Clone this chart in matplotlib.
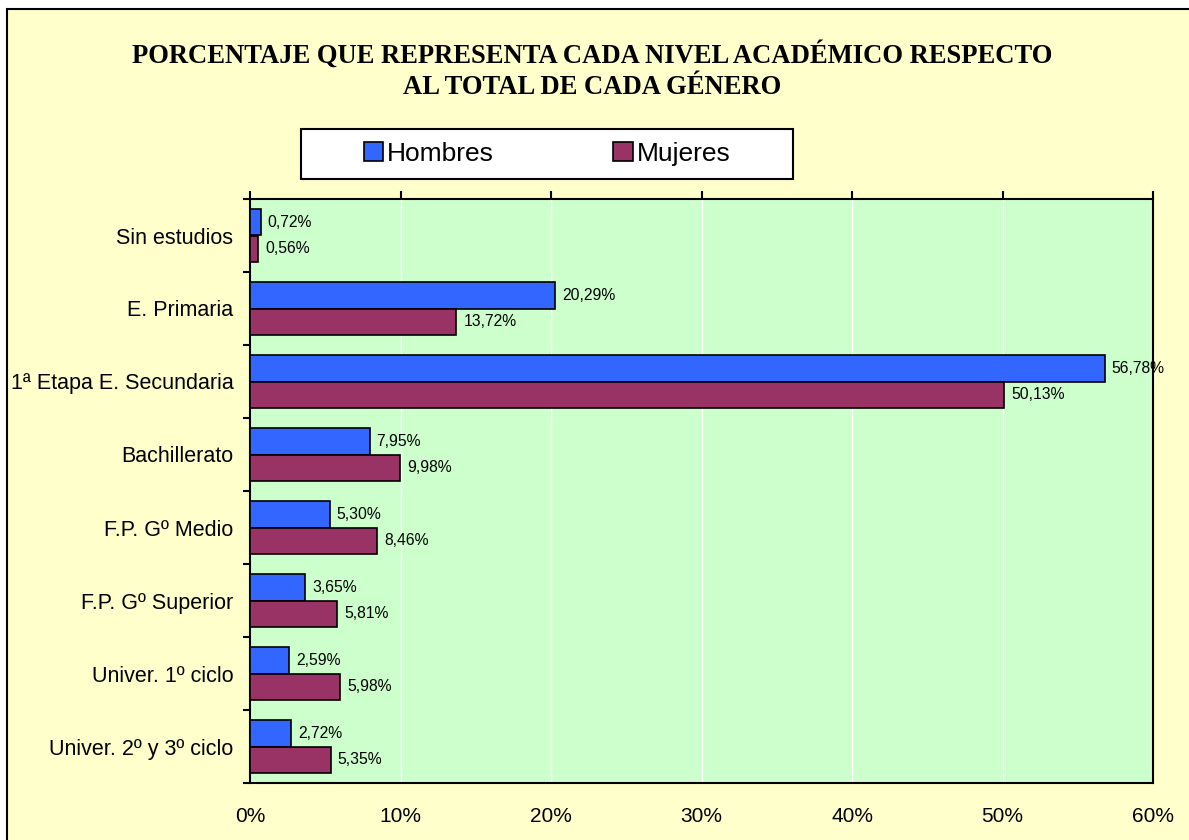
import numpy as np
import matplotlib
matplotlib.use('Agg')
import matplotlib.pyplot as plt
from matplotlib.patches import Rectangle, Patch

plt.rcParams['font.family'] = ['Liberation Sans', 'DejaVu Sans']

# ------------------------------------------------------------
# datos
# ------------------------------------------------------------
niveles = ['Sin estudios', 'E. Primaria', '1ª Etapa E. Secundaria', 'Bachillerato',
           'F.P. Gº Medio', 'F.P. Gº Superior', 'Univer. 1º ciclo', 'Univer. 2º y 3º ciclo']
hombres = [0.72, 20.29, 56.78, 7.95, 5.30, 3.65, 2.59, 2.72]
mujeres = [0.56, 13.72, 50.13, 9.98, 8.46, 5.81, 5.98, 5.35]
xticks = [0, 10, 20, 30, 40, 50, 60]

C_HOM = '#3366FF'
C_MUJ = '#993366'
C_FONDO = '#FFFFCC'
C_PLOT = '#CCFFCC'

W, H = 1189, 840
fig = plt.figure(figsize=(W / 100, H / 100), dpi=100)
fig.patch.set_facecolor('white')

# marco del grafico (amarillo, borde negro arriba/izquierda)
fig.patches.append(Rectangle((7 / W, -0.1), 1.2, 1 - 9 / H + 0.1,
                             transform=fig.transFigure, facecolor=C_FONDO,
                             edgecolor='black', linewidth=1.5, zorder=-5))
# caja de la leyenda
fig.patches.append(Rectangle((301 / W, 1 - 179 / H), 492 / W, 50 / H,
                             transform=fig.transFigure, facecolor='white',
                             edgecolor='black', linewidth=1.5, zorder=-4))

ax = fig.add_axes([250 / W, 1 - 783 / H, (1153 - 250) / W, (783 - 199) / H])
ax.set_facecolor(C_PLOT)

y = np.arange(len(niveles))
h = 0.363
ax.barh(y - h / 2, hombres, height=h, color=C_HOM, edgecolor='black', linewidth=1.2,
        label='Hombres', zorder=3)
ax.barh(y + h / 2, mujeres, height=h, color=C_MUJ, edgecolor='black', linewidth=1.2,
        label='Mujeres', zorder=3)

# etiquetas de valor
for yi, v in zip(y, hombres):
    ax.annotate(f'{v:.2f}%'.replace('.', ','), (v, yi - h / 2), xytext=(5, 0),
                textcoords='offset points', va='center', ha='left', fontsize=11.3, zorder=4,
                annotation_clip=False)
for yi, v in zip(y, mujeres):
    ax.annotate(f'{v:.2f}%'.replace('.', ','), (v, yi + h / 2), xytext=(5, 0),
                textcoords='offset points', va='center', ha='left', fontsize=11.3, zorder=4,
                annotation_clip=False)

ax.set_xlim(0, 60)
ax.set_ylim(len(niveles) - 0.5, -0.5)
ax.set_xticks(xticks)
ax.set_xticklabels([f'{t}%' for t in xticks], fontsize=15)
ax.xaxis.grid(True, color='white', linewidth=1, zorder=1)
ax.set_axisbelow(True)
ax.tick_params(axis='x', top=True, bottom=False, labeltop=False, labelbottom=True,
               direction='out', length=6, width=1.5, pad=11)

ax.set_yticks(y)
ax.set_yticklabels(niveles, fontsize=15.5)
ax.set_yticks(np.arange(-0.5, len(niveles), 1), minor=True)
ax.tick_params(axis='y', which='major', length=0, pad=12)
ax.tick_params(axis='y', which='minor', length=5, width=1.5, direction='out')

for s in ax.spines.values():
    s.set_color('black')
    s.set_linewidth(1.5)

# titulo
fig.text(592 / W, 1 - 55 / H, 'PORCENTAJE QUE REPRESENTA CADA NIVEL ACADÉMICO RESPECTO',
         ha='center', va='center', fontsize=19.2, fontweight='bold', family='Liberation Serif')
fig.text(592 / W, 1 - 88 / H, 'AL TOTAL DE CADA GÉNERO',
         ha='center', va='center', fontsize=19.2, fontweight='bold', family='Liberation Serif')

# leyenda
handles = [Patch(facecolor=C_HOM, edgecolor='black', linewidth=1.2),
           Patch(facecolor=C_MUJ, edgecolor='black', linewidth=1.2)]
leg = fig.legend(handles, ['Hombres', 'Mujeres'], ncol=2, loc='center',
                 bbox_to_anchor=(547 / W, 1 - 154 / H), fontsize=19, frameon=False,
                 handlelength=0.75, handleheight=0.75, handletextpad=0.15,
                 columnspacing=4.5, borderaxespad=0)

fig.savefig('out.png', dpi=100, facecolor=fig.get_facecolor())
